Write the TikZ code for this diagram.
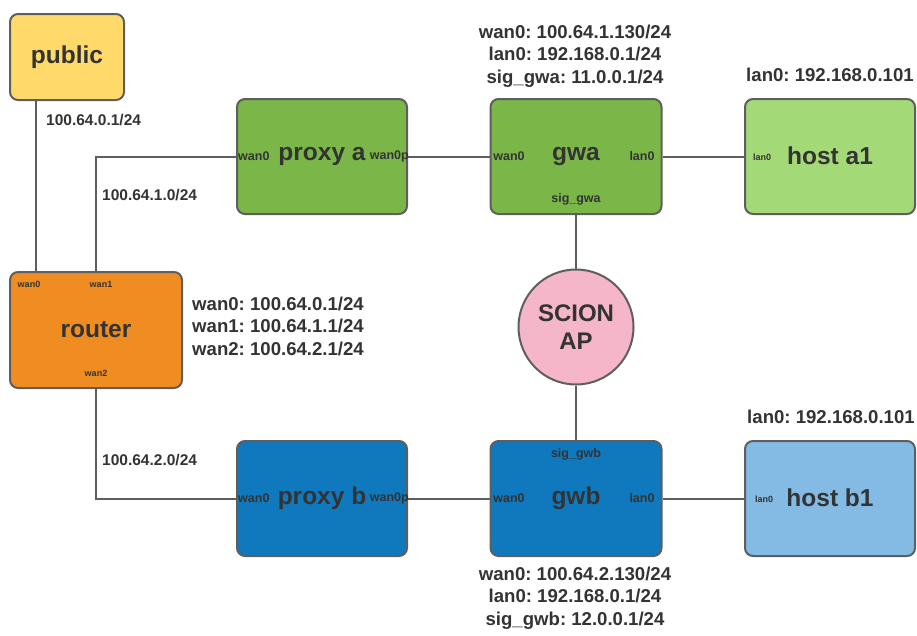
\documentclass[tikz,border=0pt]{standalone}
\usepackage{fontspec}
\setmainfont{Liberation Sans}
\frenchspacing
\definecolor{edge}{HTML}{5E5E5E}
\definecolor{ink}{HTML}{333333}
\definecolor{pubfill}{HTML}{FFDA6B}
\definecolor{grnfill}{HTML}{7AB648}
\definecolor{ltgrnfill}{HTML}{A3D977}
\definecolor{orgfill}{HTML}{EF8D22}
\definecolor{blufill}{HTML}{1078BC}
\definecolor{ltblufill}{HTML}{83BBE5}
\definecolor{pinkfill}{HTML}{F5B6C9}
\tikzset{
  box/.style={draw=edge, line width=2pt, rounded corners=8pt, inner sep=0pt,
    text=ink, font=\fontsize{24.5}{28}\selectfont\bfseries},
  wire/.style={draw=edge, line width=2pt},
  port/.style={inner sep=0pt, text=ink, font=\fontsize{12.5}{14}\selectfont\bfseries},
  tinyport/.style={inner sep=0pt, text=ink, font=\fontsize{9}{11}\selectfont\bfseries},
  subnet/.style={inner sep=0pt, text=ink, font=\fontsize{15.5}{18}\selectfont\bfseries},
  info/.style={inner sep=0pt, text=ink, font=\fontsize{18.6}{22.5}\selectfont\bfseries},
}
\begin{document}
\begin{tikzpicture}[x=1pt, y=-1pt]
\useasboundingbox (0,0) rectangle (917,635);

% devices
\node[box, fill=pubfill, minimum width=114pt, minimum height=86pt] (public) at (67,57) {public};
\node[box, fill=orgfill, minimum width=172pt, minimum height=116pt] (router) at (96,330) {router};
\node[box, fill=grnfill, minimum width=170pt, minimum height=115pt] (pa) at (322,156.5) {};
\node[box, fill=grnfill, minimum width=171pt, minimum height=115pt] (gwa) at (576,156.5) {gwa};
\node[box, fill=ltgrnfill, minimum width=170pt, minimum height=115pt] (ha) at (830,156.5) {};
\node[box, fill=blufill, minimum width=170pt, minimum height=115pt] (pb) at (322,498.5) {};
\node[box, fill=blufill, minimum width=171pt, minimum height=115pt] (gwb) at (576,498.5) {gwb};
\node[box, fill=ltblufill, minimum width=170pt, minimum height=115pt] (hb) at (830,498.5) {};
\node[box, circle, fill=pinkfill, minimum size=115pt, align=center,
  font=\fontsize{24}{28}\selectfont\bfseries] (ap) at (576,327) {SCION\\AP};

% titles beside the port names
\node[box, draw=none, fill=none] (patitle) at (322,156) {proxy a};
\node[box, draw=none, fill=none] (pbtitle) at (322,498) {proxy b};
\node[box, draw=none, fill=none] (hatitle) at (830,156) {host a1};
\node[box, draw=none, fill=none] (hbtitle) at (830,498) {host b1};

% links
\draw[wire] ([xshift=-31pt]public.south) -- ([xshift=-60pt]router.north);
\draw[wire] (router.north) |- (pa.west);
\draw[wire] (router.south) |- (pb.west);
\draw[wire] (pa.east) -- (gwa.west);
\draw[wire] (gwa.east) -- (ha.west);
\draw[wire] (pb.east) -- (gwb.west);
\draw[wire] (gwb.east) -- (hb.west);
\draw[wire] (gwa.south) -- (ap.north);
\draw[wire] (ap.south) -- (gwb.north);

% port names
\node[port, anchor=west] (pawan) at ([xshift=2pt]pa.west) {wan0};
\node[port, anchor=east] (pawanp) at ([xshift=1pt]pa.east) {wan0p};
\node[port, anchor=west] (pbwan) at ([xshift=2pt]pb.west) {wan0};
\node[port, anchor=east] (pbwanp) at ([xshift=1pt]pb.east) {wan0p};
\node[port] (gwawan) at (509,156) {wan0};
\node[port] (gwalan) at (642,156) {lan0};
\node[port] (gwasig) at (576,199) {sig\_gwa};
\node[port] (gwbwan) at (509,498) {wan0};
\node[port] (gwblan) at (642,498) {lan0};
\node[port] (gwbsig) at (576,454) {sig\_gwb};
\node[tinyport] (halan) at (762,157) {lan0};
\node[tinyport] (hblan) at (764,499) {lan0};
\node[tinyport] (rwan0) at (29,284) {wan0};
\node[tinyport] (rwan1) at (101,284) {wan1};
\node[tinyport] (rwan2) at (96,373) {wan2};

% subnets
\node[subnet, anchor=west] (net0) at (46,120) {100.64.0.1/24};
\node[subnet, anchor=west] (net1) at (102,195) {100.64.1.0/24};
\node[subnet, anchor=west] (net2) at (102,460) {100.64.2.0/24};

% addresses
\node[info, anchor=west, align=left] (rinfo) at (192,326)
  {wan0: 100.64.0.1/24\\wan1: 100.64.1.1/24\\wan2: 100.64.2.1/24};
\node[info, align=center] (gwainfo) at (575,56)
  {wan0: 100.64.1.130/24\\lan0: 192.168.0.1/24\\sig\_gwa: 11.0.0.1/24};
\node[info, align=center] (gwbinfo) at (575,598)
  {wan0: 100.64.2.130/24\\lan0: 192.168.0.1/24\\sig\_gwb: 12.0.0.1/24};
\node[info] (hainfo) at (830,75) {lan0: 192.168.0.101};
\node[info] (hbinfo) at (831,417) {lan0: 192.168.0.101};
\end{tikzpicture}
\end{document}
